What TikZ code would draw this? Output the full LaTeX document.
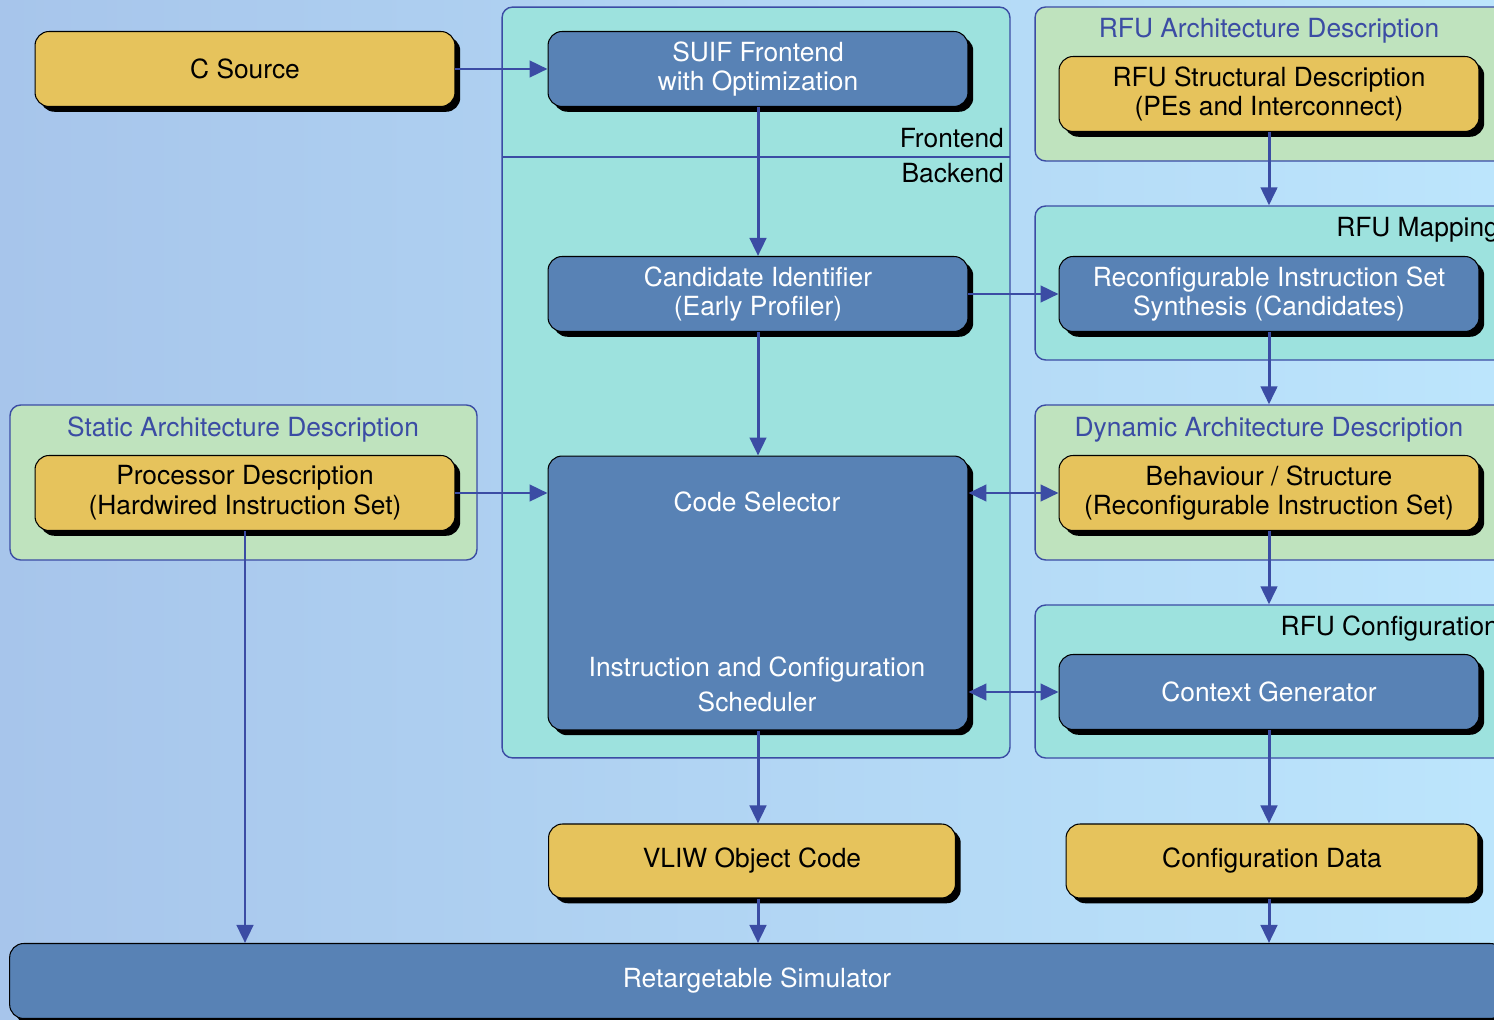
\documentclass[tikz,border=0pt]{standalone}
\usepackage{fontspec}
\setmainfont{TeX Gyre Heros}
\usepackage{tikz}
\usetikzlibrary{positioning,arrows.meta,shadows,calc}
\definecolor{fondoA}{HTML}{A7C5EB}
\definecolor{fondoB}{HTML}{BCE5FC}
\definecolor{turq}{HTML}{9DE2DE}
\definecolor{verdec}{HTML}{BFE3BE}
\definecolor{azulc}{HTML}{5882B5}
\definecolor{amar}{HTML}{E6C35C}
\definecolor{linea}{HTML}{3B4CA4}

\begin{document}
\begin{tikzpicture}[x=0.02cm, y=-0.02cm, font=\fontsize{15}{17}\selectfont,
  bloque/.style={draw=black, line width=0.6pt, rounded corners=8pt, align=center,
    minimum width=8.4cm, minimum height=1.5cm,
    drop shadow={shadow xshift=3pt, shadow yshift=-3pt, fill=black, opacity=1}},
  azulb/.style={bloque, fill=azulc, text=white},
  amarb/.style={bloque, fill=amar, text=black},
  zona/.style={draw=linea, line width=0.8pt, rounded corners=6pt},
  titulo/.style={text=linea},
  flecha/.style={->, >={Triangle[length=0.36cm, width=0.33cm]}, line width=1.7pt, linea}]
  \useasboundingbox (0,0) rectangle (1494,1020);
  \shade[left color=fondoA, right color=fondoB] (0,0) rectangle (1494,1020);
  % zonas
  \node[zona, fill=turq, minimum width=10.16cm, minimum height=15.02cm] (fb) at (756,382.5) {};
  \draw[linea, line width=0.8pt] (502,157) -- (1010,157);
  \node[anchor=east] (tfront) at (1010,138) {Frontend};
  \node[anchor=east] (tback) at (1010,173) {Backend};
  \node[zona, fill=verdec, minimum width=9.34cm, minimum height=3.1cm] (static) at (243.5,482.5) {};
  \node[titulo] (tstatic) at (243,430) {Static Architecture Description};
  \node[zona, fill=verdec, minimum width=9.4cm, minimum height=3.08cm] (rfuarch) at (1270,84) {};
  \node[titulo] (trfuarch) at (1269,31) {RFU Architecture Description};
  \node[zona, fill=turq, minimum width=9.4cm, minimum height=3.08cm] (rfumap) at (1270,283) {};
  \node[anchor=east] (trfumap) at (1505,230) {RFU Mapping};
  \node[zona, fill=verdec, minimum width=9.4cm, minimum height=3.1cm] (dynarch) at (1270,482.5) {};
  \node[titulo] (tdynarch) at (1269,430) {Dynamic Architecture Description};
  \node[zona, fill=turq, minimum width=9.4cm, minimum height=3.06cm] (rfuconf) at (1270,681.5) {};
  \node[anchor=east] (trfuconf) at (1505,629) {RFU Configuration};
  % bloques
  \node[amarb] (csrc) at (245,69) {C Source};
  \node[azulb] (suif) at (758,69) {SUIF Frontend\\with Optimization};
  \node[azulb] (cand) at (758,294) {Candidate Identifier\\(Early Profiler)};
  \node[azulb, minimum height=5.48cm] (codesel) at (758,593) {};
  \node[text=white] (tcodesel) at (757,502) {Code Selector};
  \node[text=white, align=center, font=\fontsize{15}{20}\selectfont] (tsched) at (757,684)
    {Instruction and Configuration\\Scheduler};
  \node[amarb] (proc) at (245,493) {Processor Description\\(Hardwired Instruction Set)};
  \node[amarb] (rfustr) at (1269,94) {RFU Structural Description\\(PEs and Interconnect)};
  \node[azulb] (ris) at (1269,294) {Reconfigurable Instruction Set\\Synthesis (Candidates)};
  \node[amarb] (behav) at (1269,493) {Behaviour / Structure\\(Reconfigurable Instruction Set)};
  \node[azulb] (ctxgen) at (1269,692) {Context Generator};
  \node[amarb, minimum width=8.14cm, minimum height=1.48cm] (vliw) at (752,861) {VLIW Object Code};
  \node[amarb, minimum width=8.24cm, minimum height=1.48cm] (cdata) at (1272,861) {Configuration Data};
  \node[azulb, minimum width=29.9cm] (sim) at (757,981) {Retargetable Simulator};
  % flechas
  \draw[flecha] (csrc) -- (suif);
  \draw[flecha] (suif) -- (cand);
  \draw[flecha] (cand) -- (codesel);
  \draw[flecha] (cand) -- (ris);
  \draw[flecha] (proc.east) -- (proc.east -| codesel.west);
  \draw[flecha] (rfustr) -- (rfustr |- rfumap.north);
  \draw[flecha] (ris) -- (ris |- dynarch.north);
  \draw[flecha] (behav) -- (behav |- rfuconf.north);
  \draw[flecha] (ctxgen) -- (ctxgen |- cdata.north);
  \draw[flecha, <->] (behav.west -| codesel.east) -- (behav.west);
  \draw[flecha, <->] (ctxgen.west -| codesel.east) -- (ctxgen.west);
  \draw[flecha] (proc) -- (proc |- sim.north);
  \draw[flecha] (codesel) -- (codesel |- vliw.north);
  \draw[flecha] (codesel |- vliw.south) -- (codesel |- sim.north);
  \draw[flecha] (ctxgen |- cdata.south) -- (ctxgen |- sim.north);
\end{tikzpicture}
\end{document}
